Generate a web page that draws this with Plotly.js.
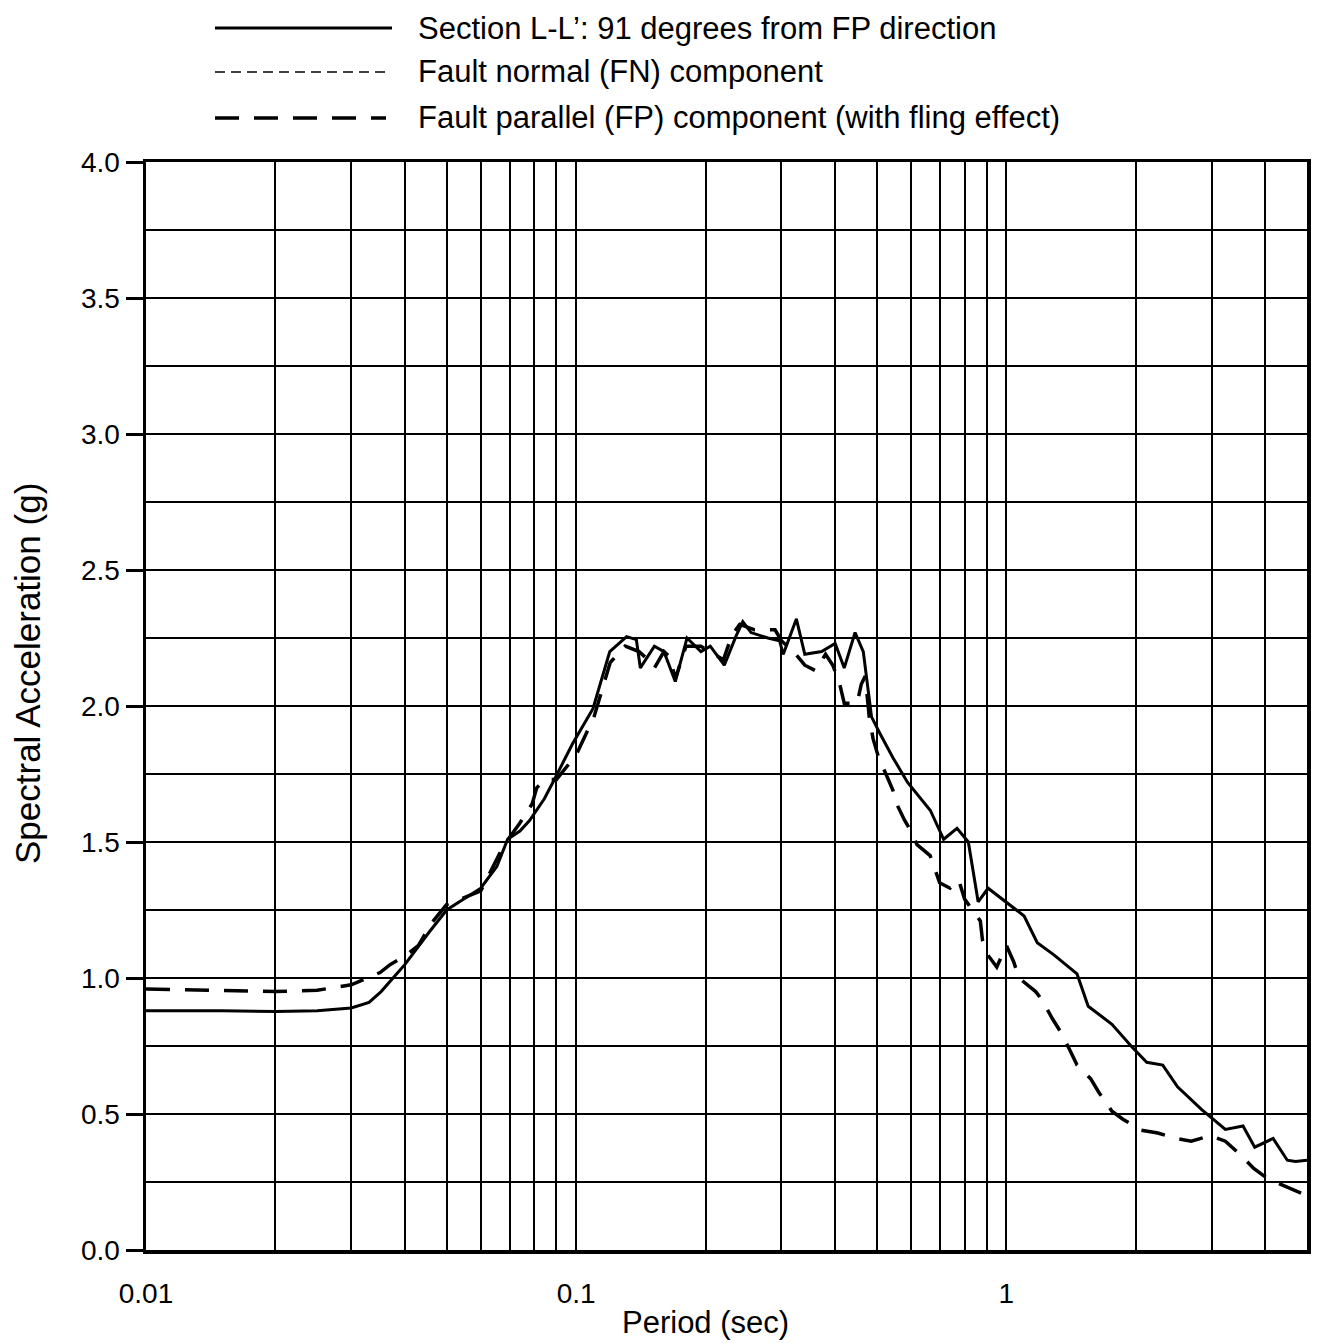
<!DOCTYPE html>
<html>
<head>
<meta charset="utf-8">
<script src="https://cdn.plot.ly/plotly-3.0.1.min.js"></script>
<style>
  html, body { margin: 0; padding: 0; background: #fff; }
  #chart { width: 1325px; height: 1343px; }
</style>
</head>
<body>
<div id="chart"></div>
<script>
// ---- Data ----
const seriesNames = [
  "Section L-L\u2019: 91 degrees from FP direction",
  "Fault normal (FN) component",
  "Fault parallel (FP) component (with fling effect)"
];
const xTitle = "Period (sec)";
const yTitle = "Spectral Acceleration (g)";

const llPeriod = [0.01,0.015,0.02,0.025,0.03,0.033,0.0352,0.04,0.0456,0.05,0.06,0.0654,0.0693,0.074,0.078,0.0844,0.089,0.098,0.1094,0.1197,0.131,0.138,0.141,0.152,0.16,0.17,0.181,0.195,0.205,0.221,0.235,0.244,0.255,0.266,0.279,0.297,0.303,0.325,0.34,0.372,0.4,0.42,0.445,0.465,0.477,0.486,0.508,0.545,0.589,0.666,0.715,0.768,0.816,0.86,0.907,1.0,1.1,1.18,1.29,1.46,1.55,1.76,1.95,2.12,2.31,2.5,2.85,3.23,3.55,3.78,4.17,4.5,4.7,5.0];
const llSa = [0.88,0.88,0.877,0.88,0.89,0.91,0.95,1.05,1.17,1.25,1.33,1.41,1.51,1.54,1.58,1.66,1.73,1.86,1.99,2.2,2.255,2.244,2.14,2.22,2.2,2.09,2.25,2.2,2.22,2.15,2.255,2.31,2.27,2.26,2.25,2.24,2.19,2.32,2.19,2.2,2.23,2.14,2.27,2.2,2.07,1.96,1.9,1.81,1.72,1.616,1.51,1.55,1.5,1.28,1.33,1.28,1.228,1.13,1.085,1.015,0.896,0.83,0.75,0.69,0.68,0.6,0.515,0.443,0.456,0.378,0.41,0.33,0.325,0.33];

// FN component overlaps the Section L-L' curve (91 deg from FP ~ fault normal)
const fnPeriod = [0.01,0.015,0.02,0.025,0.03,0.033,0.0352,0.04,0.0456,0.05,0.06,0.0654,0.0693,0.074,0.078,0.0844,0.089,0.098,0.1094,0.1197,0.131,0.138,0.141,0.152,0.16,0.17,0.181,0.195,0.205,0.221,0.235,0.244,0.255,0.266,0.279,0.297,0.303,0.325,0.34,0.372,0.4,0.42,0.445,0.465,0.477,0.486,0.508,0.545,0.589,0.666,0.715,0.768,0.816,0.86,0.907,1.0,1.1,1.18,1.29,1.46,1.55,1.76,1.95,2.12,2.31,2.5,2.85,3.23,3.55,3.78,4.17,4.5,4.7,5.0];
const fnSa = [0.88,0.88,0.877,0.88,0.89,0.91,0.95,1.05,1.17,1.25,1.33,1.41,1.51,1.54,1.58,1.66,1.73,1.86,1.99,2.2,2.255,2.244,2.14,2.22,2.2,2.09,2.25,2.2,2.22,2.15,2.255,2.31,2.27,2.26,2.25,2.24,2.19,2.32,2.19,2.2,2.23,2.14,2.27,2.2,2.07,1.96,1.9,1.81,1.72,1.616,1.51,1.55,1.5,1.28,1.33,1.28,1.228,1.13,1.085,1.015,0.896,0.83,0.75,0.69,0.68,0.6,0.515,0.443,0.456,0.378,0.41,0.33,0.325,0.33];

const fpPeriod = [0.01,0.015,0.02,0.025,0.03,0.035,0.037,0.04,0.043,0.046,0.05,0.06,0.064,0.068,0.074,0.079,0.081,0.085,0.09,0.1,0.11,0.12,0.13,0.14,0.147,0.152,0.16,0.165,0.17,0.18,0.195,0.21,0.22,0.23,0.24,0.26,0.28,0.29,0.3,0.32,0.34,0.36,0.38,0.395,0.41,0.42,0.45,0.46,0.47,0.48,0.49,0.505,0.525,0.545,0.56,0.58,0.6,0.62,0.665,0.7,0.74,0.775,0.8,0.87,0.88,0.91,0.95,1.0,1.04,1.07,1.17,1.21,1.28,1.34,1.41,1.46,1.57,1.64,1.76,1.87,2.06,2.25,2.48,2.69,2.98,3.23,3.5,3.76,4.07,4.5,5.0];
const fpSa = [0.96,0.955,0.95,0.955,0.975,1.02,1.05,1.08,1.12,1.2,1.27,1.32,1.41,1.49,1.57,1.64,1.7,1.73,1.73,1.82,1.96,2.16,2.22,2.2,2.17,2.14,2.2,2.18,2.1,2.22,2.22,2.19,2.17,2.26,2.3,2.28,2.28,2.28,2.24,2.2,2.15,2.13,2.19,2.15,2.08,2.01,2.01,2.08,2.11,1.96,1.88,1.81,1.75,1.69,1.63,1.58,1.54,1.49,1.45,1.35,1.33,1.36,1.29,1.21,1.14,1.08,1.04,1.12,1.06,1.0,0.95,0.92,0.85,0.8,0.73,0.68,0.63,0.58,0.51,0.48,0.44,0.43,0.41,0.4,0.42,0.4,0.35,0.3,0.26,0.23,0.2];

const xTickVals = [0.01,0.02,0.03,0.04,0.05,0.06,0.07,0.08,0.09,0.1,0.2,0.3,0.4,0.5,0.6,0.7,0.8,0.9,1,2,3,4,5];
const xTickText = ["0.01","","","","","","","","","0.1","","","","","","","","","1","","","",""];
const yTickVals = [0,0.5,1,1.5,2,2.5,3,3.5,4];
const yTickText = ["0.0","0.5","1.0","1.5","2.0","2.5","3.0","3.5","4.0"];

// ---- Layout geometry ----
const W = 1325, H = 1343;
const M = { l: 146, r: 18, t: 162, b: 93 };
const px2paperX = px => (px - M.l) / (W - M.l - M.r);
const px2paperY = py => (H - M.b - py) / (H - M.t - M.b);

const FONT = "Liberation Sans, Arial, Helvetica, sans-serif";
const styles = [
  { color: "#000", width: 3, dash: "solid" },
  { color: "#000", width: 1.5, dash: "10px,6px" },
  { color: "#000", width: 3.5, dash: "24px,15px" }
];

const traces = [
  { x: fnPeriod, y: fnSa, name: seriesNames[1], mode: "lines", line: styles[1] },
  { x: fpPeriod, y: fpSa, name: seriesNames[2], mode: "lines", line: styles[2] },
  { x: llPeriod, y: llSa, name: seriesNames[0], mode: "lines", line: styles[0] }
].map(t => Object.assign(t, { type: "scatter", showlegend: false, hoverinfo: "skip" }));

// legend drawn as shapes + annotations (long line samples as in the reference)
const legendRows = [28, 72, 118];
const shapes = [], annotations = [];
legendRows.forEach((py, i) => {
  shapes.push({
    type: "line", xref: "paper", yref: "paper",
    x0: px2paperX(215), x1: px2paperX(i === 0 ? 392 : 386),
    y0: px2paperY(py), y1: px2paperY(py),
    line: styles[i]
  });
  annotations.push({
    xref: "paper", yref: "paper", x: px2paperX(416), y: px2paperY(py),
    xanchor: "left", yanchor: "middle", showarrow: false,
    text: seriesNames[i], font: { family: FONT, size: 31, color: "#000" }
  });
});
annotations.push({
  xref: "paper", yref: "paper", x: px2paperX(705), y: px2paperY(1322),
  xanchor: "center", yanchor: "middle", showarrow: false,
  text: xTitle, font: { family: FONT, size: 31, color: "#000" }
});
annotations.push({
  xref: "paper", yref: "paper", x: px2paperX(27), y: px2paperY(674),
  xanchor: "center", yanchor: "middle", showarrow: false, textangle: -90,
  text: yTitle, font: { family: FONT, size: 35, color: "#000" }
});

const layout = {
  width: W, height: H,
  margin: M,
  paper_bgcolor: "#fff", plot_bgcolor: "#fff",
  font: { family: FONT, size: 28, color: "#000" },
  showlegend: false,
  xaxis: {
    type: "log",
    range: [Math.log10(0.01), Math.log10(5)],
    tickmode: "array", tickvals: xTickVals, ticktext: xTickText,
    ticks: "", ticklabelstandoff: 16,
    showgrid: true, gridcolor: "#000", gridwidth: 2,
    showline: true, linecolor: "#000", linewidth: 3.5, mirror: true,
    zeroline: false,
    tickfont: { family: FONT, size: 28, color: "#000" }
  },
  yaxis: {
    range: [0, 4],
    tickmode: "array", tickvals: yTickVals, ticktext: yTickText,
    ticks: "outside", ticklen: 17, tickwidth: 3, tickcolor: "#000",
    showgrid: true, gridcolor: "#000", gridwidth: 2,
    minor: { dtick: 0.25, showgrid: true, gridcolor: "#000", gridwidth: 2, ticks: "" },
    showline: true, linecolor: "#000", linewidth: 3.5, mirror: true,
    zeroline: false,
    tickfont: { family: FONT, size: 28, color: "#000" }
  },
  shapes: shapes,
  annotations: annotations
};

Plotly.newPlot("chart", traces, layout, { staticPlot: true, displayModeBar: false });
</script>
</body>
</html>
